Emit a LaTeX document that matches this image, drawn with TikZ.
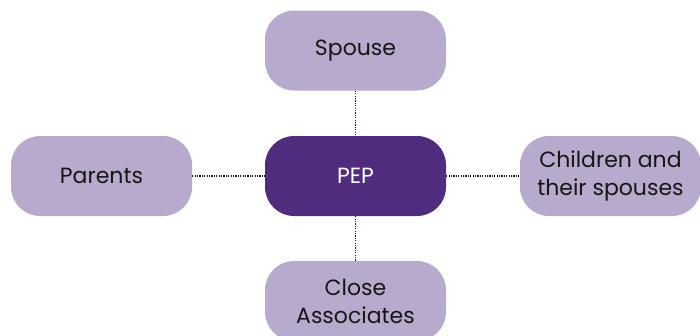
\documentclass[tikz,border=0pt]{standalone}
\usepackage{fontspec}
\setmainfont{Poppins}
\definecolor{lightpurple}{HTML}{B8AACD}
\definecolor{darkpurple}{HTML}{4F2C7E}
\definecolor{txt}{HTML}{161616}
\begin{document}
\begin{tikzpicture}[x=1pt,y=-1pt,
  box/.style={rounded corners=29pt, fill=lightpurple, minimum width=181pt, minimum height=80pt,
    inner sep=0pt, align=center, text=txt, font=\fontsize{22}{28}\selectfont},
  mainbox/.style={box, fill=darkpurple, text=white},
  link/.style={line width=1.5pt, dash pattern=on 1.2pt off 1.2pt, draw=black!90}]
\useasboundingbox (0,0) rectangle (700,335);
\clip (0,0) rectangle (700,335);
\node[mainbox] (pep) at (355.5,176) {PEP};
\node[box] (spouse) at (355.5,50.5) {Spouse};
\node[box] (parents) at (101.5,176) {Parents};
\node[box] (children) at (610.5,176) {Children and\\their spouses};
\node[box] (close) at (355.5,301) {Close\\Associates};
\draw[link] (spouse.south) -- (pep.north);
\draw[link] (parents.east) -- (pep.west);
\draw[link] (pep.east) -- (children.west);
\draw[link] (pep.south) -- (close.north);
\end{tikzpicture}
\end{document}
